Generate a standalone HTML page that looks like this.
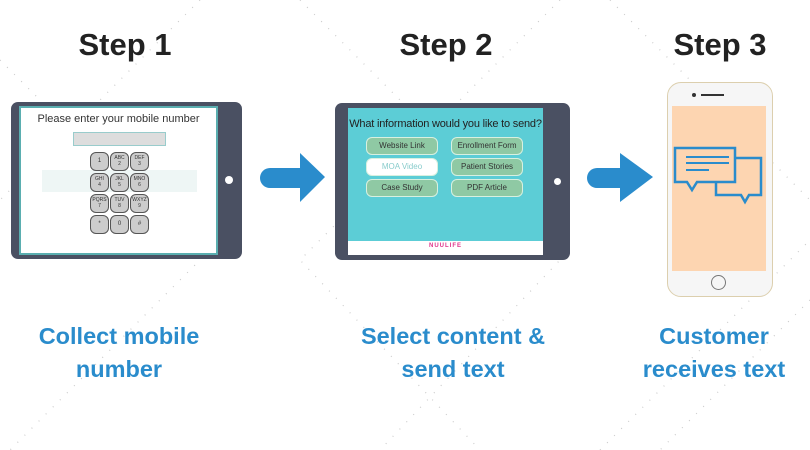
<!DOCTYPE html>
<html><head><style>
body{margin:0;width:810px;height:450px;background:#fff;position:relative;overflow:hidden;font-family:"Liberation Sans",sans-serif}
.a{position:absolute}
.t{font-weight:bold;font-size:31px;color:#222;text-align:center;width:200px}
.l{font-weight:bold;font-size:23.5px;color:#2a8ccc;text-align:center;width:240px;line-height:33px}
.tab{background:#4a5062;border-radius:7px}
.k{position:absolute;width:17px;height:17px;border:1.5px solid #555;border-radius:6px;background:#ccc;font-size:5px;text-align:center;line-height:6px;color:#333;box-sizing:content-box}
.k.s{padding-top:0;line-height:17px;font-size:6px}
.k.d{height:15px;padding-top:2px}
.b{position:absolute;width:70px;height:16px;border-radius:6px;background:#8fc9a4;border:1px solid #d8f0e0;font-size:8px;text-align:center;line-height:16px;color:#333}
</style></head><body>
<svg class="a" style="left:0;top:0" width="810" height="450">
<g stroke="#ccc" stroke-width="1.2" stroke-dasharray="1 9" fill="none">
<path d="M0 60 L200 260 L10 450"/><path d="M200 0 L0 200"/><path d="M300 0 L560 260 L380 450"/><path d="M560 0 L300 260 L480 450"/><path d="M610 0 L810 200"/><path d="M810 300 L660 450"/><path d="M600 450 L810 240"/>
</g>
<path d="M270 168 H300 V153 L325 177 L300 202 V188 H270 A10 10 0 0 1 270 168Z" fill="#2a8ccc"/>
<path d="M597 168 H620 V153 L653 177 L620 202 V188 H597 A10 10 0 0 1 597 168Z" fill="#2a8ccc"/>
</svg>
<div class="a t" style="left:25px;top:27px">Step 1</div>
<div class="a t" style="left:346px;top:27px">Step 2</div>
<div class="a t" style="left:620px;top:27px">Step 3</div>

<div class="a tab" style="left:11px;top:102px;width:231px;height:157px"></div>
<div class="a" style="left:19px;top:106px;width:195px;height:145px;background:#fff;border:2px solid #5aaeb0"></div>
<div class="a" style="left:225px;top:176px;width:8px;height:8px;border-radius:50%;background:#fff"></div>
<div class="a" style="left:19px;top:113px;width:199px;text-align:center;font-size:11px;color:#333;white-space:nowrap">Please enter your mobile number</div>
<div class="a" style="left:73px;top:132px;width:91px;height:12px;background:#ddd;border:1px solid #9cc"></div>
<div class="a" style="left:42px;top:170px;width:155px;height:22px;background:#eef6f5"></div>
<div class="k s" style="left:90px;top:152px">1</div><div class="k d" style="left:110px;top:152px">ABC<br>2</div><div class="k d" style="left:130px;top:152px">DEF<br>3</div>
<div class="k d" style="left:90px;top:173px">GHI<br>4</div><div class="k d" style="left:110px;top:173px">JKL<br>5</div><div class="k d" style="left:130px;top:173px">MNO<br>6</div>
<div class="k d" style="left:90px;top:194px">PQRS<br>7</div><div class="k d" style="left:110px;top:194px">TUV<br>8</div><div class="k d" style="left:130px;top:194px">WXYZ<br>9</div>
<div class="k s" style="left:90px;top:215px">*</div><div class="k s" style="left:110px;top:215px">0</div><div class="k s" style="left:130px;top:215px">#</div>

<div class="a tab" style="left:335px;top:103px;width:235px;height:157px"></div>
<div class="a" style="left:348px;top:108px;width:195px;height:147px;background:#5ccdd6"></div>
<div class="a" style="left:348px;top:241px;width:195px;height:14px;background:#fff;text-align:center;font-size:6px;font-weight:bold;color:#e0338a;letter-spacing:1px;line-height:10px">NUULIFE</div>
<div class="a" style="left:554px;top:178px;width:7px;height:7px;border-radius:50%;background:#fff"></div>
<div class="a" style="left:338px;top:118px;width:215px;text-align:center;font-size:11px;color:#222;white-space:nowrap;letter-spacing:-0.2px">What information would you like to send?</div>
<div class="b" style="left:366px;top:137px">Website Link</div><div class="b" style="left:451px;top:137px">Enrollment Form</div>
<div class="b" style="left:366px;top:158px;background:#fff;color:#8cc">MOA Video</div><div class="b" style="left:451px;top:158px">Patient Stories</div>
<div class="b" style="left:366px;top:179px">Case Study</div><div class="b" style="left:451px;top:179px">PDF Article</div>

<div class="a" style="left:667px;top:82px;width:104px;height:213px;border:1.5px solid #dccfae;border-radius:14px;background:#f6f6f6"></div>
<div class="a" style="left:701px;top:94px;width:23px;height:2px;background:#333"></div>
<div class="a" style="left:692px;top:93px;width:4px;height:4px;border-radius:50%;background:#333"></div>
<div class="a" style="left:672px;top:106px;width:94px;height:165px;background:#fdd5b1"></div>
<div class="a" style="left:711px;top:275px;width:13px;height:13px;border:1.5px solid #777;border-radius:50%"></div>
<svg class="a" style="left:672px;top:140px" width="94" height="70" fill="none" stroke="#2a8ccc" stroke-width="2.5">
<path d="M44 18 H89 V55 H77 L73 62 L69 55 H44Z" fill="#fdd5b1"/>
<path d="M3 8 H63 V42 H25 L20 50 L15 42 H3Z" fill="#fdd5b1"/>
<path d="M14 17 H57 M14 23 H57 M14 30 H37" stroke-width="2"/>
</svg>

<div class="a l" style="left:-1px;top:320px">Collect mobile<br>number</div>
<div class="a l" style="left:333px;top:320px">Select content &amp;<br>send text</div>
<div class="a l" style="left:594px;top:320px">Customer<br>receives text</div>
</body></html>
